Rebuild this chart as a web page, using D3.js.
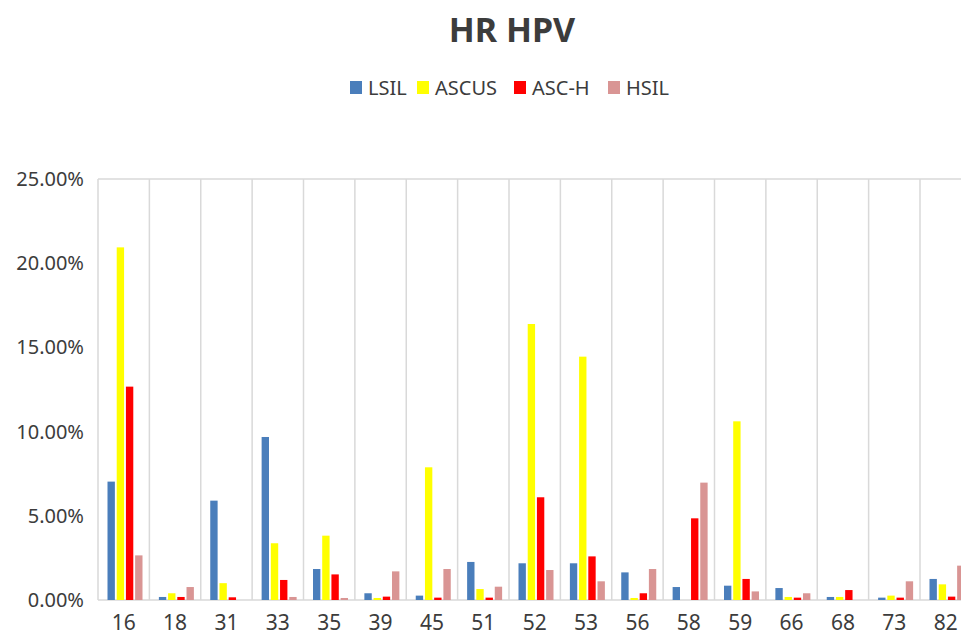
<!DOCTYPE html>
<html>
<head>
<meta charset="utf-8">
<script src="https://cdn.jsdelivr.net/npm/d3@7"></script>
<style>
  body { margin: 0; background: #fff; }
  text { font-family: "Noto Sans", "Open Sans", sans-serif; fill: #3c3c3c; }
</style>
</head>
<body>
<div id="chart"></div>
<script>
// categories (HPV types) and series, values in %
var types = ["16", "18", "31", "33", "35", "39", "45", "51", "52", "53", "56", "58", "59", "66", "68", "73", "82"];
var seriesNames = ["LSIL", "ASCUS", "ASC-H", "HSIL"];
var seriesColors = ["#4a7ebb", "#ffff00", "#ff0000", "#d99594"];

var lsil  = [7.03, 0.18, 5.90, 9.68, 1.84, 0.40, 0.26, 2.26, 2.18, 2.18, 1.64, 0.77, 0.85, 0.71, 0.18, 0.14, 1.25];
var ascus = [20.94, 0.40, 1.00, 3.37, 3.82, 0.12, 7.88, 0.65, 16.39, 14.45, 0.12, 0, 10.61, 0.18, 0.18, 0.26, 0.93];
var asch  = [12.67, 0.18, 0.16, 1.19, 1.52, 0.20, 0.14, 0.14, 6.10, 2.59, 0.40, 4.85, 1.25, 0.14, 0.59, 0.14, 0.20];
var hsil  = [2.65, 0.77, 0, 0.18, 0.12, 1.70, 1.84, 0.79, 1.78, 1.11, 1.84, 6.97, 0.51, 0.40, 0, 1.11, 2.04];

var yTicks = [0, 5, 10, 15, 20, 25];

var seriesValues = [lsil, ascus, asch, hsil];

var W = 961, H = 635;
var margin = { top: 179, left: 98, bottom: 35 };
var plotH = H - margin.top - margin.bottom;
var bandW = 51.375;

var svg = d3.select("#chart").append("svg")
    .attr("width", W)
    .attr("height", H);

// title
svg.append("text")
    .attr("x", 512)
    .attr("y", 42)
    .attr("text-anchor", "middle")
    .style("font-size", "34px")
    .style("font-weight", "bold")
    .text("HR HPV");

// scales
var x0 = d3.scaleBand()
    .domain(types)
    .range([margin.left, margin.left + bandW * types.length]);

var x1 = d3.scaleBand()
    .domain(seriesNames)
    .range([9.5, 44.5])
    .paddingInner(0.2);

var y = d3.scaleLinear()
    .domain([0, 25])
    .range([margin.top + plotH, margin.top]);

var g = svg.append("g");

// vertical separators between categories
g.selectAll(".sep")
    .data(types.map(function (d) { return x0(d); }).concat([x0.range()[1]]))
    .enter().append("line")
    .attr("class", "sep")
    .attr("x1", function (d) { return d; })
    .attr("x2", function (d) { return d; })
    .attr("y1", y(25))
    .attr("y2", y(0))
    .attr("stroke", "#d9d9d9")
    .attr("stroke-width", 1.5);

// top border and baseline
[25, 0].forEach(function (v) {
    g.append("line")
        .attr("x1", margin.left)
        .attr("x2", W)
        .attr("y1", y(v))
        .attr("y2", y(v))
        .attr("stroke", "#d9d9d9")
        .attr("stroke-width", 1.5);
});

// bars
var rows = [];
types.forEach(function (t, i) {
    seriesNames.forEach(function (s, j) {
        rows.push({ type: t, series: s, value: seriesValues[j][i], color: seriesColors[j] });
    });
});

g.selectAll(".bar")
    .data(rows)
    .enter().append("rect")
    .attr("class", "bar")
    .attr("x", function (d) { return x0(d.type) + x1(d.series); })
    .attr("y", function (d) { return y(d.value); })
    .attr("width", x1.bandwidth())
    .attr("height", function (d) { return y(0) - y(d.value); })
    .attr("fill", function (d) { return d.color; });

// y axis labels
var yAxis = d3.axisLeft(y)
    .tickValues(yTicks)
    .tickSize(0)
    .tickPadding(14)
    .tickFormat(function (d) { return d.toFixed(2) + "%"; });

var yg = svg.append("g")
    .attr("transform", "translate(" + margin.left + ",0)")
    .call(yAxis);
yg.select(".domain").remove();
yg.selectAll("text")
    .style("font-size", "20px")
    .style("font-family", "'Noto Sans', sans-serif")
    .attr("fill", "#3c3c3c");

// x axis labels
var xAxis = d3.axisBottom(x0).tickSize(0).tickPadding(15);
var xg = svg.append("g")
    .attr("transform", "translate(0," + y(0) + ")")
    .call(xAxis);
xg.select(".domain").remove();
xg.selectAll("text")
    .style("font-size", "21px")
    .style("font-family", "'Noto Sans', sans-serif")
    .attr("fill", "#3c3c3c");

// legend
var legendX = [350, 417, 514, 608];
var legend = svg.append("g");
seriesNames.forEach(function (s, j) {
    legend.append("rect")
        .attr("x", legendX[j])
        .attr("y", 81)
        .attr("width", 12)
        .attr("height", 13)
        .attr("fill", seriesColors[j]);
    legend.append("text")
        .attr("x", legendX[j] + 18)
        .attr("y", 95)
        .style("font-size", "20px")
        .text(s);
});
</script>
</body>
</html>
